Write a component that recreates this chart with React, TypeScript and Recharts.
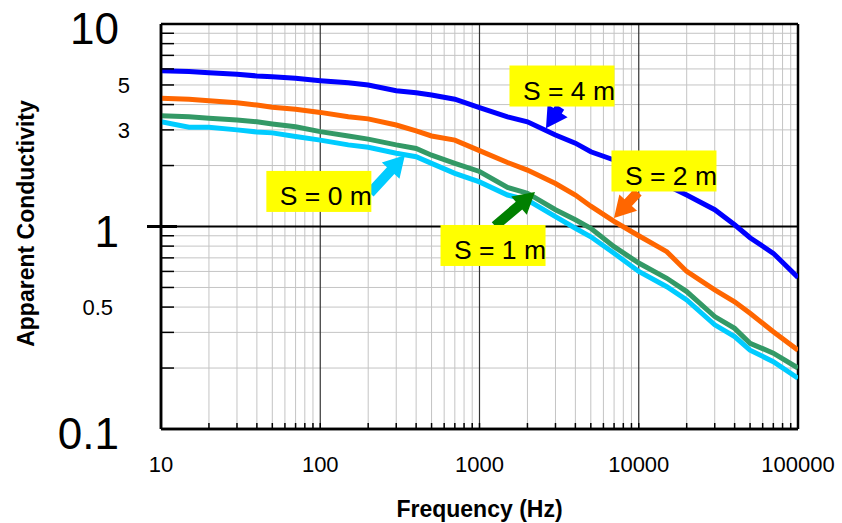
import React from 'react';
import { LineChart, Line, XAxis, YAxis, CartesianGrid, ReferenceLine, ReferenceDot } from 'recharts';

const FONT = "'Liberation Sans', Arial, sans-serif";

// frequency (Hz) and apparent conductivity per spacing S
const freqs = [10, 15, 20, 30, 40, 50, 70, 100, 150, 200, 300, 400, 500, 700, 1000, 1500, 2000, 3000, 4000, 5000, 7000, 10000, 15000, 20000, 30000, 40000, 50000, 70000, 100000];
const s0 = [3.29, 3.09, 3.09, 3.0, 2.93, 2.9, 2.78, 2.67, 2.53, 2.46, 2.3, 2.21, 2.05, 1.83, 1.66, 1.43, 1.35, 1.12, 0.98, 0.89, 0.737, 0.6, 0.504, 0.434, 0.327, 0.286, 0.245, 0.215, 0.178];
const s1 = [3.52, 3.48, 3.42, 3.36, 3.29, 3.21, 3.11, 2.94, 2.8, 2.7, 2.53, 2.43, 2.25, 2.05, 1.87, 1.56, 1.46, 1.21, 1.08, 0.98, 0.795, 0.66, 0.555, 0.477, 0.359, 0.314, 0.265, 0.237, 0.2];
const s2 = [4.3, 4.25, 4.18, 4.08, 3.98, 3.88, 3.79, 3.66, 3.48, 3.4, 3.17, 2.97, 2.8, 2.67, 2.37, 2.07, 1.9, 1.63, 1.43, 1.26, 1.06, 0.9, 0.751, 0.6, 0.486, 0.425, 0.373, 0.302, 0.245];
const s4 = [5.88, 5.83, 5.75, 5.64, 5.54, 5.49, 5.39, 5.25, 5.13, 5.0, 4.68, 4.58, 4.46, 4.25, 3.86, 3.48, 3.29, 2.83, 2.58, 2.34, 2.13, 1.87, 1.6, 1.43, 1.21, 1.02, 0.88, 0.737, 0.56];

const xDecades = [10, 100, 1000, 10000, 100000];
const xTickLabels = ['10', '100', '1000', '10000', '100000'];
const xMinor = [
  20, 30, 40, 50, 60, 70, 80, 90,
  200, 300, 400, 500, 600, 700, 800, 900,
  2000, 3000, 4000, 5000, 6000, 7000, 8000, 9000,
  20000, 30000, 40000, 50000, 60000, 70000, 80000, 90000,
];
const yMinor = [0.2, 0.3, 0.4, 0.5, 0.6, 0.7, 0.8, 0.9, 2, 3, 4, 5, 6, 7, 8, 9];
const yAllTicks = [0.1, 0.2, 0.3, 0.4, 0.5, 0.6, 0.7, 0.8, 0.9, 1, 2, 3, 4, 5, 6, 7, 8, 9, 10];
const yLabelTicks = [0.1, 0.4, 1, 3, 5, 10];
const yLabelTexts = ['0.1', '0.5', '1', '3', '5', '10'];
const xAllTicks = [...xDecades, ...xMinor].sort((a, b) => a - b);

// callouts
const calloutTexts = ['S = 0 m', 'S = 1 m', 'S = 2 m', 'S = 4 m'];
const calloutFreqs = [98, 1216, 14400, 3296];
const calloutValues = [1.49, 0.806, 1.88, 4.94];
const arrowFromFreqs = [205, 1251, 9886, 3203];
const arrowFromValues = [1.46, 1.006, 1.48, 3.89];
const arrowToFreqs = [340, 2231, 6990, 2615];
const arrowToValues = [2.25, 1.48, 1.1, 3.06];
const arrowColors = ['#00ccff', '#008000', '#ff6600', '#0000ff'];

const data = freqs.map((f, i) => ({ f, s0: s0[i], s1: s1[i], s2: s2[i], s4: s4[i] }));

const XTick = ({ x, y, payload }: any) => {
  const i = xDecades.indexOf(payload.value);
  return (
    <g>
      <line x1={x} y1={y} x2={x} y2={y - 6} stroke="#000" strokeWidth={1.5} />
      {i >= 0 && (
        <text x={x} y={y + 43} textAnchor="middle" fontSize={22} fontFamily={FONT} fill="#000">
          {xTickLabels[i]}
        </text>
      )}
    </g>
  );
};

const YTick = ({ x, y, payload }: any) => {
  const v = payload.value;
  const i = yLabelTicks.indexOf(v);
  const label = i >= 0 ? yLabelTexts[i] : null;
  const big = label === '10' || label === '1' || label === '0.1';
  let dx = big ? -42 : -31;
  if (label === '0.5') dx = -48;
  return (
    <g>
      {v === 1 ? (
        <line x1={x - 14} y1={y} x2={x + 16} y2={y} stroke="#000" strokeWidth={3} />
      ) : (
        <line x1={x} y1={y} x2={x + 13} y2={y} stroke="#000" strokeWidth={1.5} />
      )}
      {label && (
        <text
          x={x + dx}
          y={y + (big ? 20 : 8)}
          textAnchor="end"
          fontSize={big ? 44 : 22}
          fontFamily={FONT}
          fill="#000"
        >
          {label}
        </text>
      )}
    </g>
  );
};

const arrowShape = (color: string) => (props: any) => {
  const { x1, y1, x2, y2 } = props;
  const dx = x2 - x1;
  const dy = y2 - y1;
  const len = Math.hypot(dx, dy) || 1;
  const ux = dx / len;
  const uy = dy / len;
  const px = -uy;
  const py = ux;
  const head = Math.min(21, len);
  const hw = 12;
  const sw = 5;
  const bx = x2 - ux * head;
  const by = y2 - uy * head;
  const pts = [
    [x1 + px * sw, y1 + py * sw],
    [bx + px * sw, by + py * sw],
    [bx + px * hw, by + py * hw],
    [x2, y2],
    [bx - px * hw, by - py * hw],
    [bx - px * sw, by - py * sw],
    [x1 - px * sw, y1 - py * sw],
  ];
  return <polygon points={pts.map((p) => p.join(',')).join(' ')} fill={color} stroke="none" />;
};

const calloutShape = (text: string) => (props: any) => {
  const { cx, cy } = props;
  const w = 105;
  const h = 41;
  return (
    <g>
      <rect x={cx - w / 2} y={cy - h / 2} width={w} height={h} fill="#ffff00" />
      <text x={cx + 7} y={cy + 14} textAnchor="middle" fontSize={26.5} fontFamily={FONT} fill="#000">
        {text}
      </text>
    </g>
  );
};

export default function App() {
  return (
    <div style={{ position: 'absolute', left: 0, top: 0, background: '#fff' }}>
      <LineChart width={842} height={523} data={data} margin={{ top: 24, right: 44, bottom: 0, left: 0 }}>
        <CartesianGrid
          stroke="#c4c4c4"
          strokeWidth={1}
          verticalValues={xMinor}
          horizontalValues={yMinor}
        />
        <CartesianGrid stroke="#333" strokeWidth={1.2} horizontal={false} verticalValues={[100, 1000, 10000]} />
        <CartesianGrid stroke="#000" strokeWidth={2} vertical={false} horizontalValues={[1]} />
        <XAxis
          dataKey="f"
          type="number"
          scale="log"
          domain={[10, 100000]}
          allowDataOverflow
          ticks={xAllTicks}
          interval={0}
          height={94}
          tickSize={0}
          tickMargin={0}
          tick={<XTick />}
          axisLine={{ stroke: '#000', strokeWidth: 2.5 }}
          label={{
            content: (p: any) => {
              const vb = p.viewBox;
              return (
                <text x={vb.x + vb.width / 2} y={vb.y + 88} textAnchor="middle" fontSize={23} fontWeight="bold" fontFamily={FONT} fill="#000">
                  Frequency (Hz)
                </text>
              );
            },
          }}
        />
        <YAxis
          type="number"
          scale="log"
          domain={[0.1, 10]}
          allowDataOverflow
          ticks={yAllTicks}
          interval={0}
          width={161}
          tickSize={0}
          tickMargin={0}
          tick={<YTick />}
          axisLine={{ stroke: '#000', strokeWidth: 2.5 }}
          label={{
            content: (p: any) => {
              const vb = p.viewBox;
              const cx = 26;
              const cy = vb.y + vb.height / 2 - 3;
              return (
                <text
                  x={cx}
                  y={cy}
                  transform={`rotate(-90 ${cx} ${cy})`}
                  textAnchor="middle"
                  dominantBaseline="central"
                  fontSize={23}
                  fontWeight="bold"
                  fontFamily={FONT}
                  fill="#000"
                >
                  Apparent Conductivity
                </text>
              );
            },
          }}
        />
        <ReferenceLine y={10} stroke="#000" strokeWidth={2.5} />
        <ReferenceLine y={0.1} stroke="#000" strokeWidth={2.5} />
        <ReferenceLine x={10} stroke="#000" strokeWidth={2.5} />
        <ReferenceLine x={100000} stroke="#000" strokeWidth={2.5} />
        <Line dataKey="s4" stroke="#0000ff" strokeWidth={5} dot={false} isAnimationActive={false} />
        <Line dataKey="s2" stroke="#ff6600" strokeWidth={5} dot={false} isAnimationActive={false} />
        <Line dataKey="s1" stroke="#339966" strokeWidth={5} dot={false} isAnimationActive={false} />
        <Line dataKey="s0" stroke="#00ccff" strokeWidth={5} dot={false} isAnimationActive={false} />
        {arrowColors.map((c, i) => (
          <ReferenceLine
            key={`arrow-${i}`}
            segment={[
              { x: arrowFromFreqs[i], y: arrowFromValues[i] },
              { x: arrowToFreqs[i], y: arrowToValues[i] },
            ]}
            shape={arrowShape(c)}
          />
        ))}
        {calloutTexts.map((t, i) => (
          <ReferenceDot
            key={`callout-${i}`}
            x={calloutFreqs[i]}
            y={calloutValues[i]}
            shape={calloutShape(t)}
          />
        ))}
      </LineChart>
    </div>
  );
}
